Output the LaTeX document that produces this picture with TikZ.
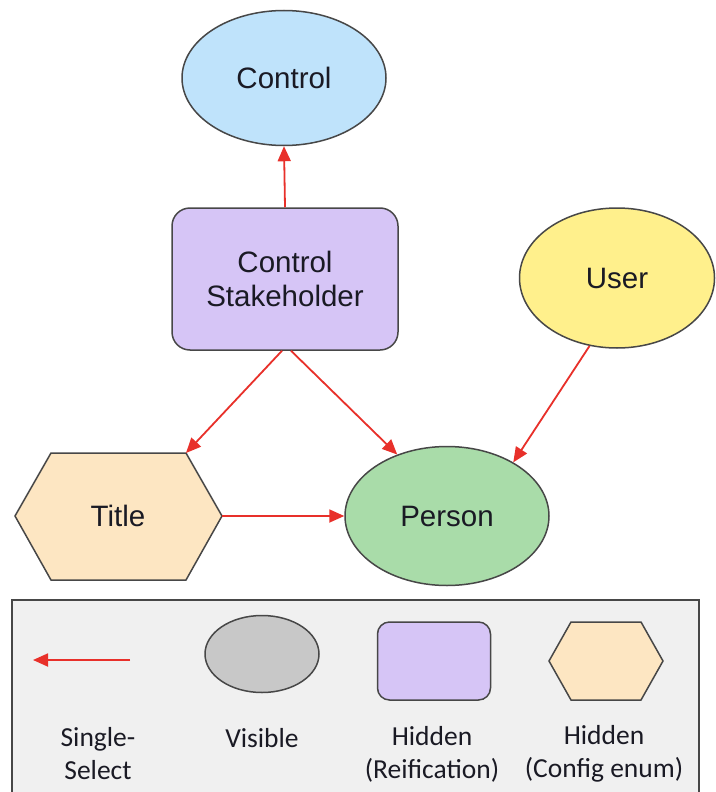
\documentclass[tikz,border=0pt]{standalone}
\usepackage{fontspec}
\setmainfont{Liberation Sans}
\newfontfamily\legendfont{Carlito}
\usetikzlibrary{arrows.meta,shapes.geometric}
\definecolor{cblue}{HTML}{BFE3FB}
\definecolor{cpurple}{HTML}{D6C5F6}
\definecolor{cyellow}{HTML}{FFF08C}
\definecolor{cgreen}{HTML}{A9DCA9}
\definecolor{corange}{HTML}{FDE6C2}
\definecolor{cgray}{HTML}{C8C8C8}
\definecolor{clegend}{HTML}{F0F0F0}
\definecolor{cborder}{HTML}{474747}
\definecolor{cred}{HTML}{E8302A}
\definecolor{ctext}{HTML}{1A1A24}
\begin{document}
\begin{tikzpicture}[x=1pt,y=-1pt,
  shapebase/.style={draw=cborder, line width=1.5pt, inner sep=0pt, text=ctext,
    font=\fontsize{29.5}{34}\selectfont, align=center},
  ell/.style={shapebase, ellipse},
  rbox/.style={shapebase, rectangle, rounded corners=18pt},
  hexbox/.style={rectangle, inner sep=0pt, text=ctext, font=\fontsize{29.5}{34}\selectfont},
  conn/.style={draw=cred, line width=1.8pt, -{Triangle[length=15pt,width=13pt]}},
  hexline/.style={draw=cborder, line width=1.5pt, line join=miter},
  legtext/.style={font=\legendfont\fontsize{27.5}{33}\selectfont, text=ctext, align=center}
]
\useasboundingbox (0,0) rectangle (715,792);
\fill[white] (0,0) rectangle (715,792);

% main nodes
\node[ell, fill=cblue, minimum width=204pt, minimum height=135pt] (control) at (284,78) {Control};
\node[rbox, fill=cpurple, minimum width=226pt, minimum height=142pt] (stake) at (285,279) {Control\\Stakeholder};
\node[ell, fill=cyellow, minimum width=195pt, minimum height=140pt] (user) at (617,278) {User};
\node[ell, fill=cgreen, minimum width=204pt, minimum height=139pt] (person) at (447,516) {Person};

% Title hexagon
\coordinate (tW) at (15,516);
\coordinate (tNW) at (51,453);
\coordinate (tNE) at (186,453);
\coordinate (tE) at (222,516);
\coordinate (tSE) at (186,580);
\coordinate (tSW) at (51,580);
\filldraw[hexline, fill=corange] (tW) -- (tNW) -- (tNE) -- (tE) -- (tSE) -- (tSW) -- cycle;
\node[hexbox] (title) at (118,516) {Title};

% connectors
\draw[conn] (stake.north) -- (control.south);
\draw[conn] ([xshift=-3pt]stake.south) -- (tNE);
\draw[conn] ([xshift=6pt]stake.south) -- (person.129);
\draw[conn] (user.248) -- (person.39);
\draw[conn] (tE) -- (person.west);

% legend
\filldraw[draw=cborder, fill=clegend, line width=1.5pt] (12,600) rectangle (699,820);
\coordinate (la1) at (130,660);
\coordinate (la2) at (33,660);
\draw[conn] (la1) -- (la2);
\node[ell, fill=cgray, minimum width=114pt, minimum height=77pt] (vis) at (262,654) {};
\node[rbox, fill=cpurple, minimum width=113pt, minimum height=78pt, rounded corners=12pt] (reif) at (434,661) {};
\coordinate (hW) at (549,661);
\coordinate (hNW) at (571,622);
\coordinate (hNE) at (641,622);
\coordinate (hE) at (663,661);
\coordinate (hSE) at (641,700);
\coordinate (hSW) at (571,700);
\filldraw[hexline, fill=corange] (hW) -- (hNW) -- (hNE) -- (hE) -- (hSE) -- (hSW) -- cycle;

\node[legtext] (l1) at (98,754) {Single-\\Select};
\node[legtext] (l2) at (262,738) {Visible};
\node[legtext] (l3) at (432,754) {Hidden\\(Reification)};
\node[legtext] (l4) at (604,754) {Hidden\\(Config enum)};
\end{tikzpicture}
\end{document}
